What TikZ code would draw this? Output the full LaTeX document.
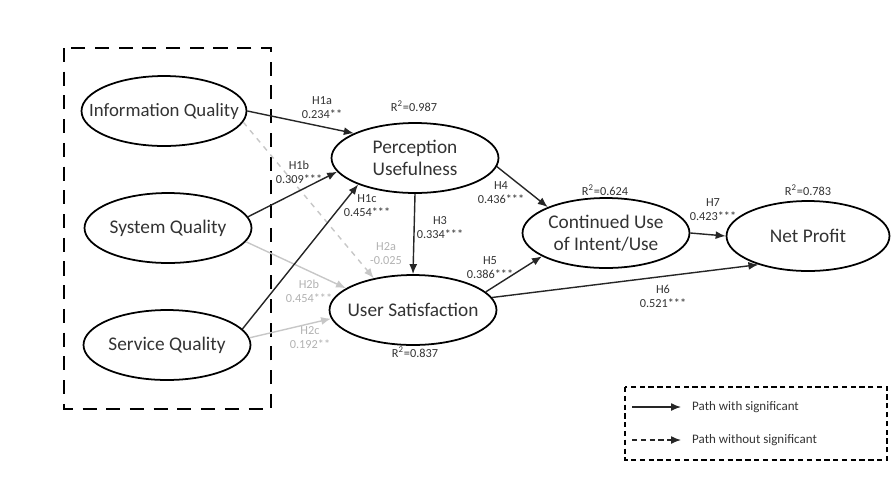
\documentclass[tikz,border=0pt]{standalone}
\usepackage{fontspec}
\setmainfont{Carlito}
\usetikzlibrary{arrows.meta,shapes.geometric}

\begin{document}
\begin{tikzpicture}[x=0.02cm,y=-0.02cm,
  construct/.style={ellipse,draw,line width=1pt,inner xsep=-11pt,inner ysep=0pt,align=center,
    minimum width=3.34cm,minimum height=1.4cm,text=black!80,
    font=\fontsize{11}{12.5}\selectfont},
  sig/.style={-{Latex[length=2mm,width=1.6mm]},line width=0.8pt,draw=black!85},
  nonsig/.style={sig,draw=black!22},
  coef/.style={align=center,text=black!80,font=\fontsize{7}{8}\selectfont},
  coefgray/.style={coef,text=black!30},
  rsq/.style={text=black!80,font=\fontsize{7}{8}\selectfont},
  legtext/.style={anchor=west,text=black!80,font=\fontsize{7.4}{8.5}\selectfont}]
  \useasboundingbox (0,0) rectangle (892,484);

  % exogenous block
  \draw[line width=1.4pt,dash pattern=on 8pt off 5.5pt] (64,48) rectangle (271,409);
  \node[construct,minimum width=3.3cm,font=\fontsize{10.7}{12}\selectfont] (info) at (164,111) {Information Quality};
  \node[construct] (sys)  at (168,228) {System Quality};
  \node[construct] (serv) at (167,345) {Service Quality};

  % endogenous constructs
  \node[construct] (pu) at (415,158) {Perception\\Usefulness};
  \node[construct] (us) at (413,310) {User Satisfaction};
  \node[construct] (cu) at (606,233) {Continued Use\\of Intent/Use};
  \node[construct,minimum width=3.26cm] (np) at (808,236) {Net Profit};

  % paths
  \draw[nonsig,dashed] (info.-8) -- (us.141);
  \draw[nonsig] (sys.-10) -- (us.162);
  \draw[nonsig] (serv.5) -- (us.186);
  \draw[sig] (info.east) -- (pu.158);
  \draw[sig] (sys.8) -- (pu.190);
  \draw[sig] (serv.12) -- (pu.205);
  \draw[sig] (pu.south) -- (us.north);
  \draw[sig] (pu.-6) -- (cu.156);
  \draw[sig] (us.14) -- (cu.200);
  \draw[sig] (us.9) -- (np.210);
  \draw[sig] (cu.east) -- (np.west);

  % coefficients
  \node[coef] (h1a) at (322,108) {H1a\\0.234**};
  \node[coef] (h1b) at (299,172) {H1b\\0.309***};
  \node[coef] (h1c) at (367,206) {H1c\\0.454***};
  \node[coef] (h3)  at (440,228) {H3\\0.334***};
  \node[coefgray] (h2a) at (386,254) {H2a\\-0.025};
  \node[coefgray] (h2b) at (309,291) {H2b\\0.454***};
  \node[coefgray] (h2c) at (310,338) {H2c\\0.192**};
  \node[coef] (h4) at (501,193) {H4\\0.436***};
  \node[coef] (h5) at (490,268) {H5\\0.386***};
  \node[coef] (h6) at (663,296) {H6\\0.521***};
  \node[coef] (h7) at (713,210) {H7\\0.423***};

  % explained variance
  \node[rsq] (rpu) at (414,106) {R\textsuperscript{2}=0.987};
  \node[rsq] (rus) at (415,352) {R\textsuperscript{2}=0.837};
  \node[rsq] (rcu) at (605,190) {R\textsuperscript{2}=0.624};
  \node[rsq] (rnp) at (808,190) {R\textsuperscript{2}=0.783};

  % legend
  \draw[line width=0.8pt,densely dashed] (625,387) rectangle (887,460);
  \coordinate (l1a) at (632,407);
  \coordinate (l1b) at (681,407);
  \coordinate (l2a) at (632,440);
  \coordinate (l2b) at (681,440);
  \draw[sig] (l1a) -- (l1b);
  \draw[sig,densely dashed] (l2a) -- (l2b);
  \node[legtext] (lsig) at (686,407) {Path with significant};
  \node[legtext] (lnon) at (686,440) {Path without significant};
\end{tikzpicture}
\end{document}
